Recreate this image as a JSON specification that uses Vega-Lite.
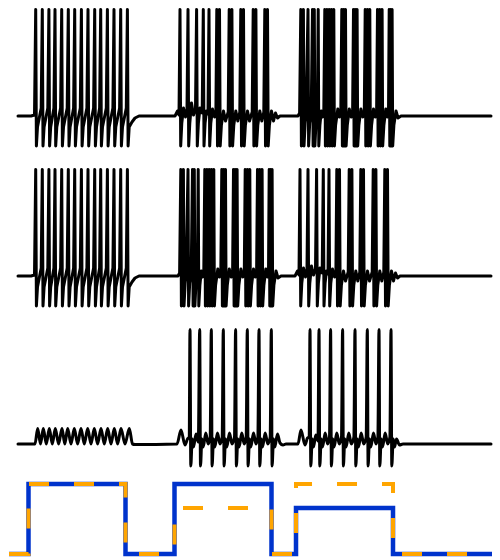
{
"$schema": "https://vega.github.io/schema/vega-lite/v6.json",
"padding": {"left": 0, "right": 0, "top": 4, "bottom": 0},
"bounds": "flush",
"spacing": 16,
"config": {"view": {"stroke": null}},
"datasets": {
"p1": [
{"t":17,"v":-65},{"t":30,"v":-65},{"t":33.5,"v":-64},
{"t":34.7,"v":41.5},{"t":35.4,"v":-95},{"t":36.5,"v":-76},{"t":40.2,"v":-57},
{"t":41.3,"v":41.5},{"t":42.0,"v":-95},{"t":43.1,"v":-76},{"t":46.8,"v":-57},
{"t":47.9,"v":41.5},{"t":48.6,"v":-95},{"t":49.7,"v":-76},{"t":52.9,"v":-57},
{"t":54.0,"v":41.5},{"t":54.7,"v":-95},{"t":55.8,"v":-76},{"t":59.6,"v":-57},
{"t":60.7,"v":41.5},{"t":61.4,"v":-95},{"t":62.5,"v":-76},{"t":66.2,"v":-57},
{"t":67.3,"v":41.5},{"t":68.0,"v":-95},{"t":69.1,"v":-76},{"t":72.6,"v":-57},
{"t":73.7,"v":41.5},{"t":74.4,"v":-95},{"t":75.5,"v":-76},{"t":79.3,"v":-57},
{"t":80.4,"v":41.5},{"t":81.1,"v":-95},{"t":82.2,"v":-76},{"t":85.9,"v":-57},
{"t":87.0,"v":41.5},{"t":87.7,"v":-95},{"t":88.8,"v":-76},{"t":92.6,"v":-57},
{"t":93.7,"v":41.5},{"t":94.4,"v":-95},{"t":95.5,"v":-76},{"t":98.6,"v":-57},
{"t":99.7,"v":41.5},{"t":100.4,"v":-95},{"t":101.5,"v":-76},{"t":105.3,"v":-57},
{"t":106.4,"v":41.5},{"t":107.1,"v":-95},{"t":108.2,"v":-76},{"t":111.9,"v":-57},
{"t":113.0,"v":41.5},{"t":113.7,"v":-95},{"t":114.8,"v":-76},{"t":118.6,"v":-57},
{"t":119.7,"v":41.5},{"t":120.4,"v":-95},{"t":121.5,"v":-76},{"t":125.3,"v":-57},
{"t":126.4,"v":41.5},{"t":127.1,"v":-95},{"t":128.2,"v":-76},{"t":131,"v":-71},{"t":134,"v":-67},{"t":138,"v":-65},
{"t":174,"v":-65},{"t":176.5,"v":-60},{"t":178,"v":-64},
{"t":179.0,"v":41.5},{"t":179.7,"v":-95},{"t":180.8,"v":-72},{"t":182.5,"v":-57},{"t":184.5,"v":-66},{"t":186,"v":-58},
{"t":187.0,"v":41.5},{"t":187.7,"v":-95},{"t":188.8,"v":-72},{"t":190.5,"v":-52},{"t":192.5,"v":-64},{"t":194.5,"v":-58},
{"t":195.6,"v":41.5},{"t":196.3,"v":-95},{"t":197.4,"v":-72},{"t":199,"v":-57},{"t":201.2,"v":-62},
{"t":202.3,"v":41.5},{"t":203.0,"v":-95},{"t":204.1,"v":-72},{"t":205.5,"v":-60},{"t":207,"v":-63},
{"t":208.0,"v":41.5},{"t":208.7,"v":-95},{"t":209.8,"v":-72},{"t":211.5,"v":-58},{"t":213.5,"v":-66},{"t":214.9,"v":-61},
{"t":215.8,"v":41.5},{"t":216.5,"v":-95},{"t":217.4,"v":-70},{"t":218.5,"v":41.5},{"t":219.2,"v":-95},{"t":220.4,"v":-74},{"t":222.5,"v":-60},{"t":224.5,"v":-70},{"t":227.2,"v":-61},
{"t":228.2,"v":41.5},{"t":228.9,"v":-95},{"t":229.8,"v":-70},{"t":230.9,"v":41.5},{"t":231.6,"v":-95},{"t":232.8,"v":-74},{"t":234.8,"v":-60},{"t":236.8,"v":-70},{"t":238.8,"v":-61},
{"t":239.8,"v":41.5},{"t":240.5,"v":-95},{"t":241.4,"v":-70},{"t":242.5,"v":41.5},{"t":243.2,"v":-95},{"t":244.4,"v":-74},{"t":246.5,"v":-60},{"t":248.5,"v":-70},{"t":251.2,"v":-61},
{"t":252.2,"v":41.5},{"t":252.9,"v":-95},{"t":253.8,"v":-70},{"t":254.9,"v":41.5},{"t":255.6,"v":-95},{"t":256.8,"v":-74},{"t":258.8,"v":-60},{"t":260.8,"v":-70},{"t":262.8,"v":-61},
{"t":263.8,"v":41.5},{"t":264.5,"v":-95},{"t":265.4,"v":-70},{"t":266.5,"v":41.5},{"t":267.2,"v":-95},{"t":268.4,"v":-74},{"t":270.5,"v":-60},{"t":272.5,"v":-70},{"t":274.5,"v":-62},{"t":276.5,"v":-67},{"t":279,"v":-65},
{"t":297,"v":-65},{"t":298.6,"v":-62},
{"t":299.8,"v":41.5},{"t":300.4,"v":-95},{"t":301.2,"v":-70},{"t":302.4,"v":41.5},{"t":303.0,"v":-95},{"t":304.2,"v":-72},{"t":305.0,"v":-64},
{"t":307.0,"v":41.5},{"t":307.6,"v":-95},{"t":308.7,"v":-72},{"t":310.2,"v":-63},
{"t":311.5,"v":41.5},{"t":312.1,"v":-95},{"t":312.7,"v":-72},{"t":313.3,"v":41.5},{"t":313.9,"v":-95},{"t":315.0,"v":-72},{"t":316.4,"v":-64},
{"t":317.2,"v":41.5},{"t":317.8,"v":-95},{"t":318.9,"v":-74},{"t":320.3,"v":-60},{"t":321.6,"v":-66},{"t":322.8,"v":-61},
{"t":323.8,"v":41.5},{"t":324.4,"v":-95},{"t":325.0,"v":-72},{"t":326.05,"v":41.5},{"t":326.65,"v":-95},{"t":327.25,"v":-72},{"t":328.3,"v":41.5},{"t":328.9,"v":-95},{"t":329.5,"v":-72},{"t":330.55,"v":41.5},{"t":331.15,"v":-95},{"t":331.75,"v":-72},{"t":332.8,"v":41.5},{"t":333.4,"v":-95},{"t":334.6,"v":-74},{"t":336.8,"v":-58},{"t":338.4,"v":-66},{"t":339.8,"v":-62},
{"t":340.8,"v":41.5},{"t":341.4,"v":-95},{"t":342.0,"v":-72},{"t":342.65,"v":41.5},{"t":343.25,"v":-95},{"t":343.85,"v":-72},{"t":344.5,"v":41.5},{"t":345.1,"v":-95},{"t":346.3,"v":-74},{"t":348.3,"v":-58},{"t":350.2,"v":-66},{"t":351.6,"v":-62},
{"t":352.5,"v":41.5},{"t":353.1,"v":-95},{"t":353.7,"v":-72},{"t":354.3,"v":41.5},{"t":354.9,"v":-95},{"t":355.5,"v":-72},{"t":356.1,"v":41.5},{"t":356.7,"v":-95},{"t":357.9,"v":-74},{"t":359.9,"v":-58},{"t":361.8,"v":-66},{"t":363.3,"v":-62},
{"t":364.2,"v":41.5},{"t":364.8,"v":-95},{"t":365.5,"v":-72},{"t":366.5,"v":41.5},{"t":367.1,"v":-95},{"t":367.8,"v":-72},{"t":368.8,"v":41.5},{"t":369.4,"v":-95},{"t":370.6,"v":-74},{"t":372.5,"v":-58},{"t":374.3,"v":-66},{"t":375.6,"v":-62},
{"t":376.5,"v":41.5},{"t":377.1,"v":-95},{"t":377.8,"v":-72},{"t":378.8,"v":41.5},{"t":379.4,"v":-95},{"t":380.1,"v":-72},{"t":381.1,"v":41.5},{"t":381.7,"v":-95},{"t":382.9,"v":-74},{"t":384.8,"v":-58},{"t":386.5,"v":-66},{"t":387.5,"v":-62},
{"t":388.2,"v":41.5},{"t":388.8,"v":-95},{"t":389.2,"v":-72},{"t":389.65,"v":41.5},{"t":390.25,"v":-95},{"t":390.65,"v":-72},{"t":391.1,"v":41.5},{"t":391.7,"v":-95},{"t":392.9,"v":-74},{"t":395,"v":-60},{"t":397,"v":-67},{"t":400,"v":-65},
{"t":490,"v":-65}
],
"p2": [
{"t":17,"v":-65},{"t":30,"v":-65},{"t":33.5,"v":-64},
{"t":34.7,"v":41.5},{"t":35.4,"v":-95},{"t":36.5,"v":-76},{"t":40.2,"v":-57},
{"t":41.3,"v":41.5},{"t":42.0,"v":-95},{"t":43.1,"v":-76},{"t":46.8,"v":-57},
{"t":47.9,"v":41.5},{"t":48.6,"v":-95},{"t":49.7,"v":-76},{"t":52.9,"v":-57},
{"t":54.0,"v":41.5},{"t":54.7,"v":-95},{"t":55.8,"v":-76},{"t":59.6,"v":-57},
{"t":60.7,"v":41.5},{"t":61.4,"v":-95},{"t":62.5,"v":-76},{"t":66.2,"v":-57},
{"t":67.3,"v":41.5},{"t":68.0,"v":-95},{"t":69.1,"v":-76},{"t":72.6,"v":-57},
{"t":73.7,"v":41.5},{"t":74.4,"v":-95},{"t":75.5,"v":-76},{"t":79.3,"v":-57},
{"t":80.4,"v":41.5},{"t":81.1,"v":-95},{"t":82.2,"v":-76},{"t":85.9,"v":-57},
{"t":87.0,"v":41.5},{"t":87.7,"v":-95},{"t":88.8,"v":-76},{"t":92.6,"v":-57},
{"t":93.7,"v":41.5},{"t":94.4,"v":-95},{"t":95.5,"v":-76},{"t":98.6,"v":-57},
{"t":99.7,"v":41.5},{"t":100.4,"v":-95},{"t":101.5,"v":-76},{"t":105.3,"v":-57},
{"t":106.4,"v":41.5},{"t":107.1,"v":-95},{"t":108.2,"v":-76},{"t":111.9,"v":-57},
{"t":113.0,"v":41.5},{"t":113.7,"v":-95},{"t":114.8,"v":-76},{"t":118.6,"v":-57},
{"t":119.7,"v":41.5},{"t":120.4,"v":-95},{"t":121.5,"v":-76},{"t":125.3,"v":-57},
{"t":126.4,"v":41.5},{"t":127.1,"v":-95},{"t":128.2,"v":-76},{"t":131,"v":-71},{"t":134,"v":-67},{"t":138,"v":-65},
{"t":177,"v":-65},{"t":178.6,"v":-62},
{"t":179.8,"v":41.5},{"t":180.4,"v":-95},{"t":181.2,"v":-70},{"t":182.4,"v":41.5},{"t":183.0,"v":-95},{"t":184.2,"v":-72},{"t":185.0,"v":-64},
{"t":187.0,"v":41.5},{"t":187.6,"v":-95},{"t":188.7,"v":-72},{"t":190.2,"v":-63},
{"t":191.5,"v":41.5},{"t":192.1,"v":-95},{"t":192.7,"v":-72},{"t":193.3,"v":41.5},{"t":193.9,"v":-95},{"t":195.0,"v":-72},{"t":196.4,"v":-64},
{"t":197.2,"v":41.5},{"t":197.8,"v":-95},{"t":198.9,"v":-74},{"t":200.3,"v":-60},{"t":201.6,"v":-66},{"t":202.8,"v":-61},
{"t":203.8,"v":41.5},{"t":204.4,"v":-95},{"t":205.0,"v":-72},{"t":206.05,"v":41.5},{"t":206.65,"v":-95},{"t":207.25,"v":-72},{"t":208.3,"v":41.5},{"t":208.9,"v":-95},{"t":209.5,"v":-72},{"t":210.55,"v":41.5},{"t":211.15,"v":-95},{"t":211.75,"v":-72},{"t":212.8,"v":41.5},{"t":213.4,"v":-95},{"t":214.6,"v":-74},{"t":216.8,"v":-58},{"t":218.4,"v":-66},{"t":219.8,"v":-62},
{"t":220.8,"v":41.5},{"t":221.4,"v":-95},{"t":222.0,"v":-72},{"t":222.65,"v":41.5},{"t":223.25,"v":-95},{"t":223.85,"v":-72},{"t":224.5,"v":41.5},{"t":225.1,"v":-95},{"t":226.3,"v":-74},{"t":228.3,"v":-58},{"t":230.2,"v":-66},{"t":231.6,"v":-62},
{"t":232.5,"v":41.5},{"t":233.1,"v":-95},{"t":233.7,"v":-72},{"t":234.3,"v":41.5},{"t":234.9,"v":-95},{"t":235.5,"v":-72},{"t":236.1,"v":41.5},{"t":236.7,"v":-95},{"t":237.9,"v":-74},{"t":239.9,"v":-58},{"t":241.8,"v":-66},{"t":243.3,"v":-62},
{"t":244.2,"v":41.5},{"t":244.8,"v":-95},{"t":245.5,"v":-72},{"t":246.5,"v":41.5},{"t":247.1,"v":-95},{"t":247.8,"v":-72},{"t":248.8,"v":41.5},{"t":249.4,"v":-95},{"t":250.6,"v":-74},{"t":252.5,"v":-58},{"t":254.3,"v":-66},{"t":255.6,"v":-62},
{"t":256.5,"v":41.5},{"t":257.1,"v":-95},{"t":257.8,"v":-72},{"t":258.8,"v":41.5},{"t":259.4,"v":-95},{"t":260.1,"v":-72},{"t":261.1,"v":41.5},{"t":261.7,"v":-95},{"t":262.9,"v":-74},{"t":264.8,"v":-58},{"t":266.5,"v":-66},{"t":267.5,"v":-62},
{"t":268.2,"v":41.5},{"t":268.8,"v":-95},{"t":269.2,"v":-72},{"t":269.65,"v":41.5},{"t":270.25,"v":-95},{"t":270.65,"v":-72},{"t":271.1,"v":41.5},{"t":271.7,"v":-95},{"t":272.9,"v":-74},{"t":275,"v":-60},{"t":277,"v":-67},{"t":280,"v":-65},
{"t":294,"v":-65},{"t":296.5,"v":-60},{"t":298,"v":-64},
{"t":299.0,"v":41.5},{"t":299.7,"v":-95},{"t":300.8,"v":-72},{"t":302.5,"v":-57},{"t":304.5,"v":-66},{"t":306,"v":-58},
{"t":307.0,"v":41.5},{"t":307.7,"v":-95},{"t":308.8,"v":-72},{"t":310.5,"v":-55},{"t":312.5,"v":-64},{"t":314.5,"v":-58},
{"t":315.6,"v":41.5},{"t":316.3,"v":-95},{"t":317.4,"v":-72},{"t":319,"v":-57},{"t":321.2,"v":-62},
{"t":322.3,"v":41.5},{"t":323.0,"v":-95},{"t":324.1,"v":-72},{"t":325.5,"v":-60},{"t":327,"v":-63},
{"t":328.0,"v":41.5},{"t":328.7,"v":-95},{"t":329.8,"v":-72},{"t":331.5,"v":-58},{"t":333.5,"v":-66},{"t":334.9,"v":-61},
{"t":335.8,"v":41.5},{"t":336.5,"v":-95},{"t":337.4,"v":-70},{"t":338.5,"v":41.5},{"t":339.2,"v":-95},{"t":340.4,"v":-74},{"t":342.5,"v":-60},{"t":344.5,"v":-70},{"t":347.2,"v":-61},
{"t":348.2,"v":41.5},{"t":348.9,"v":-95},{"t":349.8,"v":-70},{"t":350.9,"v":41.5},{"t":351.6,"v":-95},{"t":352.8,"v":-74},{"t":354.8,"v":-60},{"t":356.8,"v":-70},{"t":358.8,"v":-61},
{"t":359.8,"v":41.5},{"t":360.5,"v":-95},{"t":361.4,"v":-70},{"t":362.5,"v":41.5},{"t":363.2,"v":-95},{"t":364.4,"v":-74},{"t":366.5,"v":-60},{"t":368.5,"v":-70},{"t":371.2,"v":-61},
{"t":372.2,"v":41.5},{"t":372.9,"v":-95},{"t":373.8,"v":-70},{"t":374.9,"v":41.5},{"t":375.6,"v":-95},{"t":376.8,"v":-74},{"t":378.8,"v":-60},{"t":380.8,"v":-70},{"t":382.8,"v":-61},
{"t":383.8,"v":41.5},{"t":384.5,"v":-95},{"t":385.4,"v":-70},{"t":386.5,"v":41.5},{"t":387.2,"v":-95},{"t":388.4,"v":-74},{"t":390.5,"v":-60},{"t":392.5,"v":-70},{"t":394.5,"v":-62},{"t":396.5,"v":-67},{"t":399,"v":-65},
{"t":490,"v":-65}
],
"p3": [
{"t":17,"v":-65},{"t":34,"v":-65},
{"t":36.7,"v":-49.5},{"t":39.5,"v":-65},{"t":42.3,"v":-49.5},{"t":45.3,"v":-65},{"t":48.3,"v":-49.5},{"t":51.3,"v":-65},
{"t":54.3,"v":-49.5},{"t":57.6,"v":-65},{"t":61,"v":-49.5},{"t":63.8,"v":-65},{"t":66.7,"v":-49.5},{"t":70,"v":-65},
{"t":73.3,"v":-49.5},{"t":76.6,"v":-65},{"t":80,"v":-49.5},{"t":83.3,"v":-65},{"t":86.7,"v":-49.5},{"t":90,"v":-65},
{"t":93.3,"v":-49.5},{"t":96.6,"v":-65},{"t":100,"v":-49.5},{"t":103.3,"v":-65},{"t":106.7,"v":-49.5},{"t":110,"v":-65},
{"t":113.3,"v":-49.5},{"t":116.6,"v":-65},{"t":120,"v":-49.5},{"t":124,"v":-65},{"t":128.3,"v":-49.5},{"t":131.5,"v":-65},
{"t":134,"v":-65.5},{"t":176,"v":-65},{"t":180,"v":-51},{"t":184,"v":-66},{"t":186.5,"v":-60},{"t":188.2,"v":-58},
{"t":189,"v":49.5},{"t":189.8,"v":-87},{"t":191.2,"v":-60},{"t":192.5,"v":-68},{"t":195,"v":-55},{"t":197.3,"v":-63},
{"t":198.7,"v":49.5},{"t":199.5,"v":-87},{"t":200.9,"v":-60},{"t":202.2,"v":-68},{"t":204.8,"v":-54},{"t":207.2,"v":-65},{"t":209.2,"v":-58},
{"t":210.3,"v":49.5},{"t":211.1,"v":-87},{"t":212.5,"v":-60},{"t":213.8,"v":-68},{"t":216.5,"v":-54},{"t":219,"v":-65},{"t":221.2,"v":-58},
{"t":222.3,"v":49.5},{"t":223.1,"v":-87},{"t":224.5,"v":-60},{"t":225.8,"v":-68},{"t":228.5,"v":-54},{"t":231,"v":-65},{"t":233.5,"v":-58},
{"t":234.6,"v":49.5},{"t":235.4,"v":-87},{"t":236.8,"v":-60},{"t":238.1,"v":-68},{"t":240.8,"v":-54},{"t":243.2,"v":-65},{"t":245.2,"v":-58},
{"t":246.3,"v":49.5},{"t":247.1,"v":-87},{"t":248.5,"v":-60},{"t":249.8,"v":-68},{"t":252.5,"v":-54},{"t":255,"v":-65},{"t":256.9,"v":-58},
{"t":258,"v":49.5},{"t":258.8,"v":-87},{"t":260.2,"v":-60},{"t":261.5,"v":-68},{"t":264.2,"v":-54},{"t":266.8,"v":-65},{"t":269.2,"v":-58},
{"t":270.3,"v":49.5},{"t":271.1,"v":-87},{"t":272.5,"v":-60},{"t":273.8,"v":-68},{"t":276.5,"v":-55},{"t":279,"v":-64},{"t":282,"v":-66},{"t":285,"v":-65},
{"t":297,"v":-65},{"t":300,"v":-51},{"t":304,"v":-66},{"t":306.5,"v":-59},{"t":308.2,"v":-58},
{"t":309,"v":49.5},{"t":309.8,"v":-87},{"t":311.2,"v":-60},{"t":312.5,"v":-68},{"t":314.8,"v":-56},{"t":317,"v":-62},
{"t":318,"v":49.5},{"t":318.8,"v":-87},{"t":320.2,"v":-60},{"t":321.5,"v":-68},{"t":324.2,"v":-54},{"t":326.6,"v":-65},{"t":328.5,"v":-58},
{"t":329.6,"v":49.5},{"t":330.4,"v":-87},{"t":331.8,"v":-60},{"t":333.1,"v":-68},{"t":335.8,"v":-54},{"t":338.3,"v":-65},{"t":340.5,"v":-58},
{"t":341.6,"v":49.5},{"t":342.4,"v":-87},{"t":343.8,"v":-60},{"t":345.1,"v":-68},{"t":347.8,"v":-54},{"t":350.3,"v":-65},{"t":352.9,"v":-58},
{"t":354,"v":49.5},{"t":354.8,"v":-87},{"t":356.2,"v":-60},{"t":357.5,"v":-68},{"t":360.2,"v":-54},{"t":362.7,"v":-65},{"t":365.2,"v":-58},
{"t":366.3,"v":49.5},{"t":367.1,"v":-87},{"t":368.5,"v":-60},{"t":369.8,"v":-68},{"t":372.5,"v":-54},{"t":375,"v":-65},{"t":376.9,"v":-58},
{"t":378,"v":49.5},{"t":378.8,"v":-87},{"t":380.2,"v":-60},{"t":381.5,"v":-68},{"t":384.2,"v":-54},{"t":386.7,"v":-65},{"t":388.9,"v":-58},
{"t":390,"v":49.5},{"t":390.8,"v":-87},{"t":392.2,"v":-60},{"t":393.5,"v":-68},{"t":395.5,"v":-60},{"t":398.5,"v":-66},{"t":402,"v":-65},
{"t":490,"v":-65}
],
"stimBlue": [
{"t":8,"i":0},{"t":27.5,"i":1},{"t":124.5,"i":0},{"t":173.5,"i":1},{"t":270.5,"i":0},{"t":295,"i":0.657},{"t":392,"i":0},{"t":491,"i":0}
],
"stimOrange": [
{"t":8,"i":0},{"t":27.5,"i":1},{"t":124.5,"i":0},{"t":173.5,"i":0.657},{"t":270.5,"i":0},{"t":295,"i":1},{"t":392,"i":0},{"t":491,"i":0}
]
},
"vconcat": [
{"width": 500, "height": 146, "data": {"name": "p1"},
 "mark": {"type": "line", "color": "black", "strokeWidth": 3, "strokeJoin": "round", "strokeCap": "round"},
 "encoding": {
  "x": {"field": "t", "type": "quantitative", "scale": {"domain": [0, 500], "nice": false, "zero": false}, "axis": null},
  "y": {"field": "v", "type": "quantitative", "scale": {"domain": [-99, 47], "nice": false, "zero": false}, "axis": null}}},
{"width": 500, "height": 146, "data": {"name": "p2"},
 "mark": {"type": "line", "color": "black", "strokeWidth": 3, "strokeJoin": "round", "strokeCap": "round"},
 "encoding": {
  "x": {"field": "t", "type": "quantitative", "scale": {"domain": [0, 500], "nice": false, "zero": false}, "axis": null},
  "y": {"field": "v", "type": "quantitative", "scale": {"domain": [-101, 45], "nice": false, "zero": false}, "axis": null}}},
{"width": 500, "height": 140, "data": {"name": "p3"},
 "mark": {"type": "line", "color": "black", "strokeWidth": 3, "strokeJoin": "round", "strokeCap": "round", "interpolate": "monotone"},
 "encoding": {
  "x": {"field": "t", "type": "quantitative", "scale": {"domain": [0, 500], "nice": false, "zero": false}, "axis": null},
  "y": {"field": "v", "type": "quantitative", "scale": {"domain": [-89, 51], "nice": false, "zero": false}, "axis": null}}},
{"width": 500, "height": 76,
 "layer": [
  {"data": {"name": "stimBlue"},
   "mark": {"type": "line", "color": "#0033CC", "strokeWidth": 4.5, "interpolate": "step-after", "strokeCap": "butt", "strokeJoin": "miter"},
   "encoding": {
    "x": {"field": "t", "type": "quantitative", "scale": {"domain": [0, 500], "nice": false, "zero": false}, "axis": null},
    "y": {"field": "i", "type": "quantitative", "scale": {"domain": [-0.0857, 1], "nice": false, "zero": false}, "axis": null}}},
  {"data": {"name": "stimOrange"},
   "mark": {"type": "line", "color": "#FFA500", "strokeWidth": 4, "interpolate": "step-after", "strokeDash": [20, 25], "strokeCap": "butt", "strokeJoin": "miter"},
   "encoding": {
    "x": {"field": "t", "type": "quantitative", "scale": {"domain": [0, 500], "nice": false, "zero": false}, "axis": null},
    "y": {"field": "i", "type": "quantitative", "scale": {"domain": [-0.0857, 1], "nice": false, "zero": false}, "axis": null}}}
 ]}
]
}
